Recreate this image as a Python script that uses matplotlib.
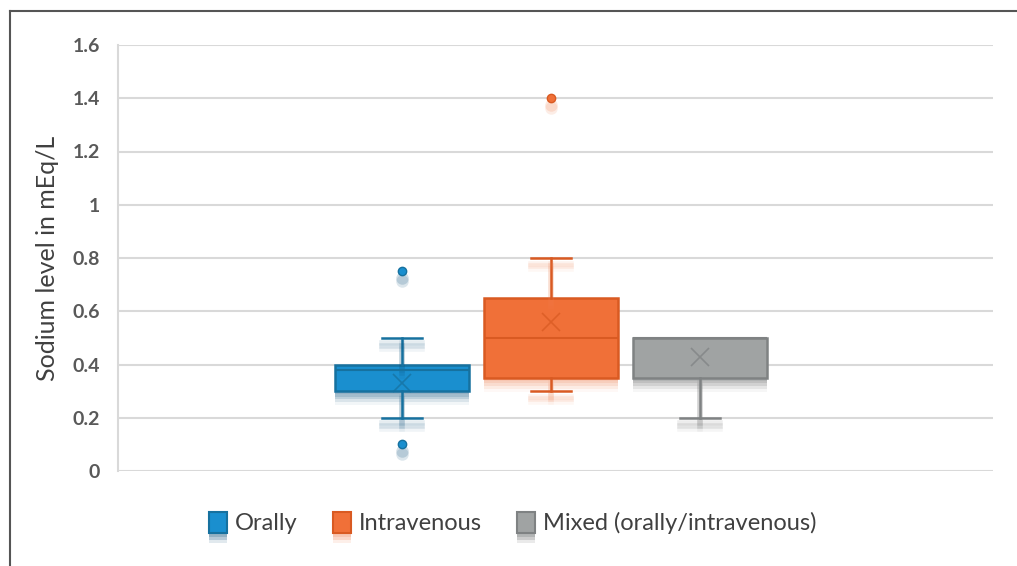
import matplotlib
matplotlib.use("Agg")
import matplotlib.pyplot as plt
import matplotlib.patheffects as pe
import matplotlib.transforms as mtransforms
from matplotlib.patches import Patch
from matplotlib.lines import Line2D

# ---- data ----
groups = ["Orally", "Intravenous", "Mixed (orally/intravenous)"]
q1 = [0.30, 0.35, 0.35]
median = [0.38, 0.50, 0.50]
q3 = [0.40, 0.65, 0.50]
mean = [0.33, 0.56, 0.43]
whislo = [0.20, 0.30, 0.20]
whishi = [0.50, 0.80, 0.50]
outliers = [[0.10, 0.75], [1.40], []]
yticks = [0, 0.2, 0.4, 0.6, 0.8, 1, 1.2, 1.4, 1.6]
ytick_labels = ["0", "0.2", "0.4", "0.6", "0.8", "1", "1.2", "1.4", "1.6"]

fills = ["#1a8fcf", "#f07038", "#a0a3a3"]
edges = ["#16719f", "#d95a22", "#7f8283"]
shadows = ["#0b4f7a", "#f08050", "#555858"]

plt.rcParams['font.family'] = ['Lato', 'DejaVu Sans']

fig = plt.figure(figsize=(10.17, 5.66), dpi=100)
ax = fig.add_axes([118/1017, 1-471/566, (993-118)/1017, (471-45)/566])

stats = []
for i in range(3):
    stats.append(dict(q1=q1[i], med=median[i], q3=q3[i], mean=mean[i],
                      whislo=whislo[i], whishi=whishi[i], fliers=outliers[i],
                      label=groups[i]))

positions = [1, 2, 3]
for i, st in enumerate(stats):
    col, ec, sc = fills[i], edges[i], shadows[i]
    patch_fx = [pe.SimplePatchShadow(offset=(0, -o), shadow_rgbFace=sc, alpha=a)
                for o, a in [(2, 0.10), (4, 0.14), (6, 0.14), (8, 0.10), (10, 0.05)]] + [pe.Normal()]
    line_fx = [pe.SimpleLineShadow(offset=(0, -o), shadow_color=sc, alpha=a, linewidth=4)
               for o, a in [(4, 0.10), (6, 0.12), (8, 0.06)]] + [pe.Normal()]
    r = ax.bxp([st], positions=[positions[i]], widths=0.9, patch_artist=True,
               showmeans=True, meanline=False,
               boxprops=dict(facecolor=col, edgecolor=ec, linewidth=1.8),
               medianprops=dict(color=ec, linewidth=1.5),
               whiskerprops=dict(color=ec, linewidth=1.8),
               capprops=dict(color=ec, linewidth=1.8),
               capwidths=0.27,
               meanprops=dict(marker='x', markeredgecolor=ec, markersize=13,
                              markeredgewidth=1.2),
               flierprops=dict(marker='o', markerfacecolor=col, markeredgecolor=ec,
                               markersize=6, linestyle='none'),
               zorder=3)
    for b in r['boxes']:
        b.set_path_effects(patch_fx)
    for ln in r['whiskers'] + r['caps']:
        ln.set_path_effects(line_fx)
    # no whisker/cap drawn when the whisker has zero length
    if whishi[i] == q3[i]:
        r['whiskers'][1].set_visible(False)
        r['caps'][1].set_visible(False)
    if whislo[i] == q1[i]:
        r['whiskers'][0].set_visible(False)
        r['caps'][0].set_visible(False)
    for ln in r['means']:
        ln.set_alpha(0.75)
    # soft shadow for outlier points
    if outliers[i]:
        for o, a in [(5, 0.18), (7, 0.14)]:
            tr = mtransforms.offset_copy(ax.transData, fig=fig, x=0, y=-o, units='points')
            ax.plot([positions[i]] * len(outliers[i]), outliers[i], 'o', color=sc,
                    alpha=a, markersize=9, markeredgewidth=0, transform=tr, zorder=2)

ax.set_xlim(-0.906, 4.966)
ax.set_ylim(0, 1.6)
ax.set_yticks(yticks)
ax.set_yticklabels(ytick_labels, fontweight='bold', fontsize=14, color='#595959')
ax.set_xticks([])
ax.yaxis.grid(True, color='#d9d9d9', linewidth=1.5, zorder=0)
ax.set_axisbelow(True)
for s in ['top', 'right', 'bottom']:
    ax.spines[s].set_visible(False)
ax.spines['left'].set_color('#d9d9d9')
ax.spines['left'].set_linewidth(1.5)
ax.tick_params(axis='y', length=0, pad=13)
ax.set_ylabel("Sodium level in mEq/L", fontsize=18, color='#404040', labelpad=10)

handles = [Patch(facecolor=fills[i], edgecolor=edges[i], linewidth=1.5,
                 path_effects=[pe.SimplePatchShadow(offset=(0, -o), shadow_rgbFace=shadows[i], alpha=a)
                               for o, a in [(3, 0.2), (5, 0.2), (7, 0.12)]] + [pe.Normal()])
           for i in range(3)]
fig.legend(handles, groups, loc='center', bbox_to_anchor=(513/1017, 1-523/566),
           ncol=3, frameon=False, fontsize=17, handlelength=0.75, handleheight=1.0,
           handletextpad=0.35, columnspacing=1.5, labelcolor='#404040')

# figure frame (top and left edges visible)
fig.add_artist(Line2D([10/1017, 10/1017], [0, 1-11/566], transform=fig.transFigure,
                      color='#555555', linewidth=1.5))
fig.add_artist(Line2D([10/1017, 1], [1-11/566, 1-11/566], transform=fig.transFigure,
                      color='#555555', linewidth=1.5))

fig.savefig("out.png", dpi=100)
